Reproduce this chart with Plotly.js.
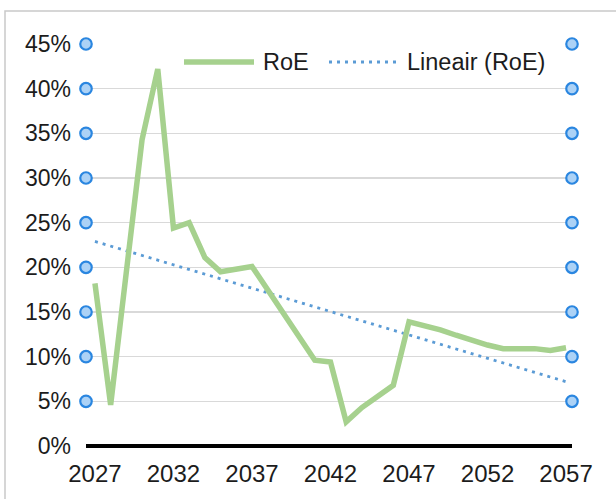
<!DOCTYPE html>
<html>
<head>
<meta charset="utf-8">
<script src="https://cdn.plot.ly/plotly-3.0.1.min.js"></script>
<style>
  html, body { margin: 0; padding: 0; background: #ffffff; }
  #chart { width: 616px; height: 499px; }
</style>
</head>
<body>
<div id="chart"></div>
<script>
// ---- data ----
const years = [2027, 2028, 2029, 2030, 2031, 2032, 2033, 2034, 2035, 2036,
               2037, 2038, 2039, 2040, 2041, 2042, 2043, 2044, 2045, 2046,
               2047, 2048, 2049, 2050, 2051, 2052, 2053, 2054, 2055, 2056, 2057];
const roe = [0.182, 0.046, 0.195, 0.343, 0.422, 0.244, 0.250, 0.211, 0.195, 0.198,
             0.201, 0.175, 0.149, 0.122, 0.096, 0.094, 0.027, 0.043, 0.056, 0.068,
             0.139, 0.135, 0.130, 0.124, 0.118, 0.113, 0.109, 0.109, 0.109, 0.107, 0.110];
const trendYears = [2027, 2057];
const trendValues = [0.229, 0.072];
const xTickVals = [2027, 2032, 2037, 2042, 2047, 2052, 2057];
const xTickText = ['2027', '2032', '2037', '2042', '2047', '2052', '2057'];
const yTickVals = [0, 0.05, 0.10, 0.15, 0.20, 0.25, 0.30, 0.35, 0.40, 0.45];
const yTickText = ['0%', '5%', '10%', '15%', '20%', '25%', '30%', '35%', '40%', '45%'];
const handleLevels = [0.05, 0.10, 0.15, 0.20, 0.25, 0.30, 0.35, 0.40, 0.45];
const legendNames = ['RoE', 'Lineair (RoE)'];

// ---- styling ----
const FONT = 'Liberation Sans, Arial, Helvetica, sans-serif';
const TXT = '#1c1c1c';
const GREEN = '#a6d18e';
const BLUE = '#5b9bd5';
const xRange = [2026.43, 2057.38];

const handleMarker = {
  symbol: 'circle', size: 11.5,
  color: '#acd2f6',
  line: { color: '#2a86e0', width: 2.2 }
};

const traces = [
  {
    x: trendYears, y: trendValues, type: 'scatter', mode: 'lines',
    name: legendNames[1], showlegend: false, hoverinfo: 'skip',
    line: { color: BLUE, width: 2.8, dash: '3px,5px' }
  },
  {
    x: years, y: roe, type: 'scatter', mode: 'lines',
    name: legendNames[0], showlegend: false,
    line: { color: GREEN, width: 5.5 }
  },
  {
    x: handleLevels.map(() => xRange[0]), y: handleLevels,
    type: 'scatter', mode: 'markers', showlegend: false, hoverinfo: 'skip',
    cliponaxis: false, marker: handleMarker
  },
  {
    x: handleLevels.map(() => xRange[1]), y: handleLevels,
    type: 'scatter', mode: 'markers', showlegend: false, hoverinfo: 'skip',
    cliponaxis: false, marker: handleMarker
  }
];

const plotL = 86, plotR = 572, plotT = 44, plotB = 446;
const px2x = p => (p - plotL) / (plotR - plotL);
const py2y = p => (plotB - p) / (plotB - plotT);

const layout = {
  width: 616, height: 499,
  margin: { l: plotL, r: 616 - plotR, t: plotT, b: 499 - plotB, pad: 0 },
  paper_bgcolor: '#ffffff', plot_bgcolor: '#ffffff',
  font: { family: FONT, color: TXT, size: 23 },
  showlegend: false,
  xaxis: {
    range: xRange, tickvals: xTickVals, ticktext: xTickText,
    showgrid: false, zeroline: false, showline: false,
    ticks: 'outside', ticklen: 6, tickcolor: 'rgba(0,0,0,0)',
    tickfont: { family: FONT, size: 24, color: TXT }, fixedrange: true
  },
  yaxis: {
    range: [0, 0.45], tickvals: yTickVals, ticktext: yTickText,
    showgrid: true, gridcolor: '#d9d9d9', gridwidth: 1.5,
    zeroline: true, zerolinecolor: '#000000', zerolinewidth: 4,
    showline: false, ticks: '', ticklabelstandoff: 14,
    tickfont: { family: FONT, size: 23, color: TXT }, fixedrange: true
  },
  shapes: [
    { type: 'rect', xref: 'paper', yref: 'paper', layer: 'below',
      x0: px2x(5), x1: px2x(640), y0: py2y(11), y1: py2y(520),
      line: { color: '#c9c9c9', width: 1.5 }, fillcolor: 'rgba(0,0,0,0)' },
    { type: 'line', xref: 'paper', yref: 'paper',
      x0: px2x(184), x1: px2x(254), y0: py2y(62), y1: py2y(62),
      line: { color: GREEN, width: 5.5 } },
    { type: 'line', xref: 'paper', yref: 'paper',
      x0: px2x(329), x1: px2x(397), y0: py2y(62), y1: py2y(62),
      line: { color: BLUE, width: 2.8, dash: '3px,5px' } }
  ],
  annotations: [
    { xref: 'paper', yref: 'paper', x: px2x(261), y: py2y(62),
      xanchor: 'left', yanchor: 'middle', showarrow: false,
      text: legendNames[0], font: { family: FONT, size: 23.5, color: TXT } },
    { xref: 'paper', yref: 'paper', x: px2x(405), y: py2y(62),
      xanchor: 'left', yanchor: 'middle', showarrow: false,
      text: legendNames[1], font: { family: FONT, size: 23.5, color: TXT } }
  ]
};

Plotly.newPlot('chart', traces, layout, { displayModeBar: false, staticPlot: true });
</script>
</body>
</html>
